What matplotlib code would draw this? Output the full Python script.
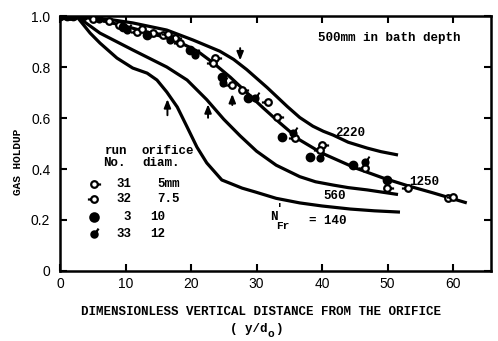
import numpy as np
import matplotlib
matplotlib.use("Agg")
import matplotlib.pyplot as plt
from matplotlib.path import Path

# ---------------- data ----------------
# curves: N'Fr = 140, 560, 1250, 2220
x140 = [2.5, 4.6, 6.1, 8.7, 11.1, 13.3, 14.8, 16.3, 17.9, 19.4, 20.9, 22.4, 24.7, 27.8, 29.8, 33.0, 36.6, 40.0, 44.3, 48.0, 51.9]
y140 = [1.0, 0.933, 0.894, 0.835, 0.796, 0.776, 0.749, 0.702, 0.643, 0.565, 0.486, 0.424, 0.357, 0.325, 0.310, 0.285, 0.267, 0.255, 0.243, 0.236, 0.231]

x560 = [2.5, 6.1, 11.1, 16.3, 19.4, 22.4, 25.0, 27.5, 30.0, 33.0, 36.6, 39.0, 41.7, 44.0, 46.9, 51.6]
y560 = [1.0, 0.933, 0.867, 0.800, 0.749, 0.672, 0.595, 0.530, 0.470, 0.415, 0.370, 0.350, 0.337, 0.327, 0.318, 0.300]

x1250 = [2.5, 6.0, 10.0, 14.0, 18.0, 21.0, 23.4, 26.0, 28.5, 31.0, 33.6, 36.6, 40.0, 45.0, 49.3, 53.0, 57.0, 62.1]
y1250 = [1.0, 0.985, 0.960, 0.932, 0.900, 0.862, 0.816, 0.760, 0.700, 0.640, 0.580, 0.514, 0.462, 0.405, 0.365, 0.335, 0.306, 0.267]

x2220 = [2.5, 8.0, 11.1, 16.3, 20.3, 24.4, 26.5, 28.5, 31.6, 34.7, 36.6, 38.6, 40.2, 41.7, 44.0, 46.9, 49.0, 51.6]
y2220 = [1.0, 0.985, 0.973, 0.945, 0.906, 0.862, 0.830, 0.790, 0.720, 0.645, 0.602, 0.568, 0.548, 0.533, 0.505, 0.482, 0.468, 0.455]

curve_labels = ["2220", "1250", "560"]

# experimental points
run31_x = [1.5, 5.0, 9.0, 14.2, 17.5, 23.7, 27.8, 33.1, 40.0, 49.9, 59.2]
run31_y = [1.0, 0.990, 0.965, 0.933, 0.915, 0.835, 0.710, 0.604, 0.494, 0.325, 0.286]
run32_x = [7.5, 11.7, 12.5, 15.7, 16.5, 18.3, 23.4, 26.3, 31.8, 35.9, 39.7, 46.6, 53.1, 60.0]
run32_y = [0.980, 0.937, 0.950, 0.925, 0.930, 0.894, 0.816, 0.730, 0.663, 0.520, 0.475, 0.404, 0.325, 0.290]
run3_x = [0.0, 1.0, 2.0, 3.5, 9.6, 13.3, 19.8, 24.7, 28.7, 33.9, 38.2, 44.7, 49.9]
run3_y = [1.0, 1.0, 1.0, 1.0, 0.957, 0.925, 0.867, 0.760, 0.678, 0.525, 0.447, 0.416, 0.357]
run33_x = [6.0, 10.2, 16.8, 20.6, 24.9, 29.8, 35.6, 39.7, 46.6]
run33_y = [0.990, 0.945, 0.906, 0.847, 0.737, 0.678, 0.540, 0.443, 0.427]

runs = ["31", "32", "3", "33"]
diams = ["5mm", "7.5", "10", "12"]

xticks = [0, 10, 20, 30, 40, 50, 60]
yticks = [0, 0.2, 0.4, 0.6, 0.8, 1.0]
ytick_labels = ["0", "0.2", "0.4", "0.6", "0.8", "1.0"]

# ---------------- markers ----------------
def circle_tail(direction):
    c = Path.unit_circle()
    verts = list(c.vertices)
    codes = list(c.codes)
    if direction == "right":
        verts += [(1.0, 0.0), (2.0, 0.0)]
    elif direction == "left":
        verts += [(-1.0, 0.0), (-2.0, 0.0)]
    else:  # flag up-right
        verts += [(0.6, 0.8), (1.3, 1.9)]
    codes += [Path.MOVETO, Path.LINETO]
    return Path(verts, codes)

m31 = circle_tail("right")
m32 = circle_tail("left")
m33 = circle_tail("flag")

# ---------------- figure ----------------
fig = plt.figure(figsize=(4.98, 3.41), dpi=100)
ax = fig.add_axes([0.1205, 0.2053, 0.8655, 0.7477])

lw = 2.3
for xs, ys in [(x140, y140), (x560, y560), (x1250, y1250), (x2220, y2220)]:
    ax.plot(xs, ys, color="black", lw=lw, solid_capstyle="butt",
            solid_joinstyle="round", zorder=2)

ax.plot(run31_x, run31_y, linestyle="none", marker=m31, markersize=9.5,
        mfc="white", mec="black", mew=1.6, zorder=3)
ax.plot(run32_x, run32_y, linestyle="none", marker=m32, markersize=9.5,
        mfc="white", mec="black", mew=1.6, zorder=3)
ax.plot(run3_x, run3_y, linestyle="none", marker="o", markersize=6,
        mfc="black", mec="black", zorder=3)
ax.plot(run33_x, run33_y, linestyle="none", marker=m33, markersize=8.5,
        mfc="black", mec="black", mew=1.4, zorder=3)

ax.set_xlim(0, 65.8)
ax.set_ylim(0, 1.0)
ax.set_xticks(xticks)
ax.set_yticks(yticks)
ax.set_yticklabels(ytick_labels)
ax.tick_params(direction="in", length=5, width=1.5, top=True, right=True,
               labelsize=10, pad=4)
ax.tick_params(axis="y", pad=7)
for lab in ax.get_xticklabels() + ax.get_yticklabels():
    lab.set_family("Liberation Sans")
for s in ax.spines.values():
    s.set_linewidth(1.8)

# ---------------- annotations ----------------
mono = dict(family="Liberation Mono", fontweight="bold", fontsize=9, color="black")
ax.text(50.2, 0.914, "500mm in bath depth", ha="center", va="center", **mono)
ax.text(44.3, 0.541, curve_labels[0], ha="center", va="center", **mono)
ax.text(55.6, 0.349, curve_labels[1], ha="center", va="center", **mono)
ax.text(42.0, 0.294, curve_labels[2], ha="center", va="center", **mono)
ax.text(32.1, 0.212, "N", ha="left", va="center", **mono)
ax.text(33.0, 0.176, "Fr", ha="left", va="center", family="Liberation Mono",
        fontweight="bold", fontsize=8)
ax.text(32.9, 0.245, "'", ha="left", va="center", **mono)
ax.text(38.0, 0.196, "= 140", ha="left", va="center", **mono)

# legend block
ax.text(6.9, 0.470, "run", ha="left", va="center", **mono)
ax.text(12.5, 0.470, "orifice", ha="left", va="center", **mono)
ax.text(6.6, 0.423, "No.", ha="left", va="center", **mono)
ax.text(12.5, 0.423, "diam.", ha="left", va="center", **mono)
leg_y = [0.341, 0.282, 0.212, 0.145]
leg_m = [m31, m32, "o", m33]
leg_fc = ["white", "white", "black", "black"]
leg_ms = [9.5, 9.5, 6, 8.5]
for i in range(4):
    ax.plot([5.2], [leg_y[i]], linestyle="none", marker=leg_m[i], markersize=leg_ms[i],
            mfc=leg_fc[i], mec="black", mew=1.6, clip_on=False)
    ax.text(10.9, leg_y[i], runs[i], ha="right", va="center", **mono)
    ax.text(13.7 if i >= 2 else 14.8, leg_y[i], diams[i], ha="left", va="center", **mono)

# arrows
arrow_kw = dict(arrowstyle="-|>,head_length=0.5,head_width=0.2", color="black", lw=1.4)
ax.annotate("", xy=(16.4, 0.685), xytext=(16.4, 0.60), arrowprops=arrow_kw)
ax.annotate("", xy=(22.6, 0.665), xytext=(22.6, 0.59), arrowprops=arrow_kw)
ax.annotate("", xy=(26.3, 0.705), xytext=(26.3, 0.64), arrowprops=arrow_kw)
ax.annotate("", xy=(27.5, 0.815), xytext=(27.5, 0.885), arrowprops=arrow_kw)

# axis labels
fig.text(0.524, 0.085, "DIMENSIONLESS VERTICAL DISTANCE FROM THE ORIFICE",
         ha="center", va="center", **mono)
fig.text(0.500, 0.035, "( y/d", ha="center", va="center", **mono)
fig.text(0.537, 0.020, "o", ha="left", va="center", family="Liberation Mono",
         fontweight="bold", fontsize=8)
fig.text(0.553, 0.035, ")", ha="left", va="center", **mono)
fig.text(0.036, 0.525, "GAS HOLDUP", rotation=90, ha="center", va="center",
         family="Liberation Mono", fontweight="bold", fontsize=8)

fig.savefig("out.png", dpi=100)
